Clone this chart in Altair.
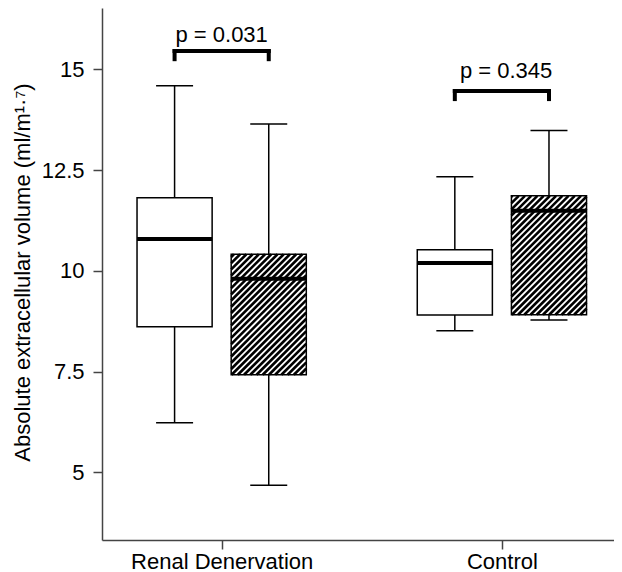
import math
import altair as alt
import pandas as pd

# ---------------- data ----------------
groups = ["Renal Denervation", "Control"]
group_pos = [1, 2]

# open (white) boxes
open_low = [6.23, 8.51]
open_q1 = [8.61, 8.90]
open_med = [10.79, 10.19]
open_q3 = [11.81, 10.52]
open_high = [14.59, 12.33]

# hatched boxes
hatch_low = [4.68, 8.78]
hatch_q1 = [7.42, 8.91]
hatch_med = [9.80, 11.49]
hatch_q3 = [10.41, 11.86]
hatch_high = [13.64, 13.48]

p_labels = ["p = 0.031", "p = 0.345"]
bracket_y = [15.45, 14.46]
p_text_y = [15.68, 14.78]

y_ticks = [5, 7.5, 10, 12.5, 15]

# ---------------- layout ----------------
W, H = 512, 532
X_DOM = [0.573, 2.4]
Y_DOM = [3.32, 16.52]
XS = W / (X_DOM[1] - X_DOM[0])
YS = H / (Y_DOM[1] - Y_DOM[0])
DODGE = 0.168
HALF = 0.134
CAP = 0.066
TICK_DROP = 0.2
FONT = "Liberation Sans"
HATCH_PERIOD = 4.4  # px, perpendicular spacing of hatch lines

rows = []
for i, g in enumerate(groups):
    for s, lo, a, m, b, hi, sign in [
        ("open", open_low[i], open_q1[i], open_med[i], open_q3[i], open_high[i], -1),
        ("hatch", hatch_low[i], hatch_q1[i], hatch_med[i], hatch_q3[i], hatch_high[i], 1),
    ]:
        c = group_pos[i] + sign * DODGE
        rows.append(dict(group=g, series=s, center=c, left=c - HALF, right=c + HALF,
                         capl=c - CAP, capr=c + CAP, low=lo, q1=a, med=m, q3=b, high=hi))
df = pd.DataFrame(rows)

# hatch lines ("/" at 45 degrees on screen), clipped to each hatched box
hl = []
for r in rows:
    if r["series"] != "hatch":
        continue
    xa, xb = r["left"] * XS, r["right"] * XS
    ya, yb = r["q1"] * YS, r["q3"] * YS
    step = HATCH_PERIOD * math.sqrt(2)
    d = ya - xb
    while d < yb - xa:
        X0 = max(xa, ya - d)
        X1 = min(xb, yb - d)
        if X1 > X0:
            hl.append(dict(hx=X0 / XS, hy=(X0 + d) / YS, hx2=X1 / XS, hy2=(X1 + d) / YS))
        d += step
dfh = pd.DataFrame(hl)

br = []
for i, g in enumerate(groups):
    xa = group_pos[i] - DODGE
    xb = group_pos[i] + DODGE
    br.append(dict(group=g, xa=xa, xb=xb, y=bracket_y[i], ylo=bracket_y[i] - TICK_DROP,
                   tx=group_pos[i] + (0.015 if i == 1 else 0.0), ty=p_text_y[i], label=p_labels[i]))
dfb = pd.DataFrame(br)

xscale = alt.Scale(domain=X_DOM, nice=False, zero=False)
yscale = alt.Scale(domain=Y_DOM, nice=False, zero=False)
xaxis = alt.Axis(values=group_pos, title=None, grid=False, labelLimit=400,
                 labelExpr="datum.value == 1 ? 'Renal Denervation' : 'Control'")
yaxis = alt.Axis(values=y_ticks, grid=False, labelExpr="'' + datum.value",
                 title="Absolute extracellular volume (ml/m¹·⁷)")


def X(f):
    return alt.X(f, type="quantitative", scale=xscale, axis=xaxis)


def Y(f):
    return alt.Y(f, type="quantitative", scale=yscale, axis=yaxis)


base = alt.Chart(df)

whisk = base.mark_rule(color="black", strokeWidth=1.5).encode(
    x=X("center"), y=Y("low"), y2="high:Q")
cap_lo = base.mark_rule(color="black", strokeWidth=1.5).encode(
    x=X("capl"), x2="capr:Q", y=Y("low"))
cap_hi = base.mark_rule(color="black", strokeWidth=1.5).encode(
    x=X("capl"), x2="capr:Q", y=Y("high"))

box_fill = base.mark_bar(fill="white", strokeWidth=0).encode(
    x=X("left"), x2="right:Q", y=Y("q1"), y2="q3:Q")

hatch = alt.Chart(dfh).mark_rule(color="black", strokeWidth=2.6).encode(
    x=X("hx"), y=Y("hy"), x2="hx2:Q", y2="hy2:Q")

box_outline = base.mark_bar(filled=False, fill=None, stroke="black", strokeWidth=1.5).encode(
    x=X("left"), x2="right:Q", y=Y("q1"), y2="q3:Q")

median = base.mark_rule(color="black", strokeWidth=4).encode(
    x=X("left"), x2="right:Q", y=Y("med"))

bb = alt.Chart(dfb)
br_h = bb.mark_rule(color="black", strokeWidth=4, strokeCap="square").encode(
    x=X("xa"), x2="xb:Q", y=Y("y"))
br_l = bb.mark_rule(color="black", strokeWidth=4, strokeCap="square").encode(
    x=X("xa"), y=Y("y"), y2="ylo:Q")
br_r = bb.mark_rule(color="black", strokeWidth=4, strokeCap="square").encode(
    x=X("xb"), y=Y("y"), y2="ylo:Q")
ptxt = bb.mark_text(font=FONT, fontSize=22, baseline="alphabetic", color="black").encode(
    x=X("tx"), y=Y("ty"), text="label:N")

chart = alt.layer(
    whisk, cap_lo, cap_hi, box_fill, hatch, box_outline, median, br_h, br_l, br_r, ptxt
).properties(
    width=W, height=H,
    autosize=alt.AutoSizeParams(type="none"),
    padding={"left": 94, "top": 0, "right": 0, "bottom": 32},
).configure_view(stroke=None).configure_axis(
    domainColor="#444", tickColor="#444", domainWidth=1.5, tickWidth=1.5, tickSize=9,
    labelFont=FONT, labelFontSize=22, labelColor="black", labelPadding=2,
    titleFont=FONT, titleFontSize=22, titleColor="black", titleFontWeight="normal",
).configure_axisLeft(
    labelPadding=9, titleX=-73, titleY=264, titleAngle=270, titleBaseline="alphabetic",
    titleAnchor="middle",
)

chart.save("out.html", embed_options={"renderer": "svg", "actions": False})
